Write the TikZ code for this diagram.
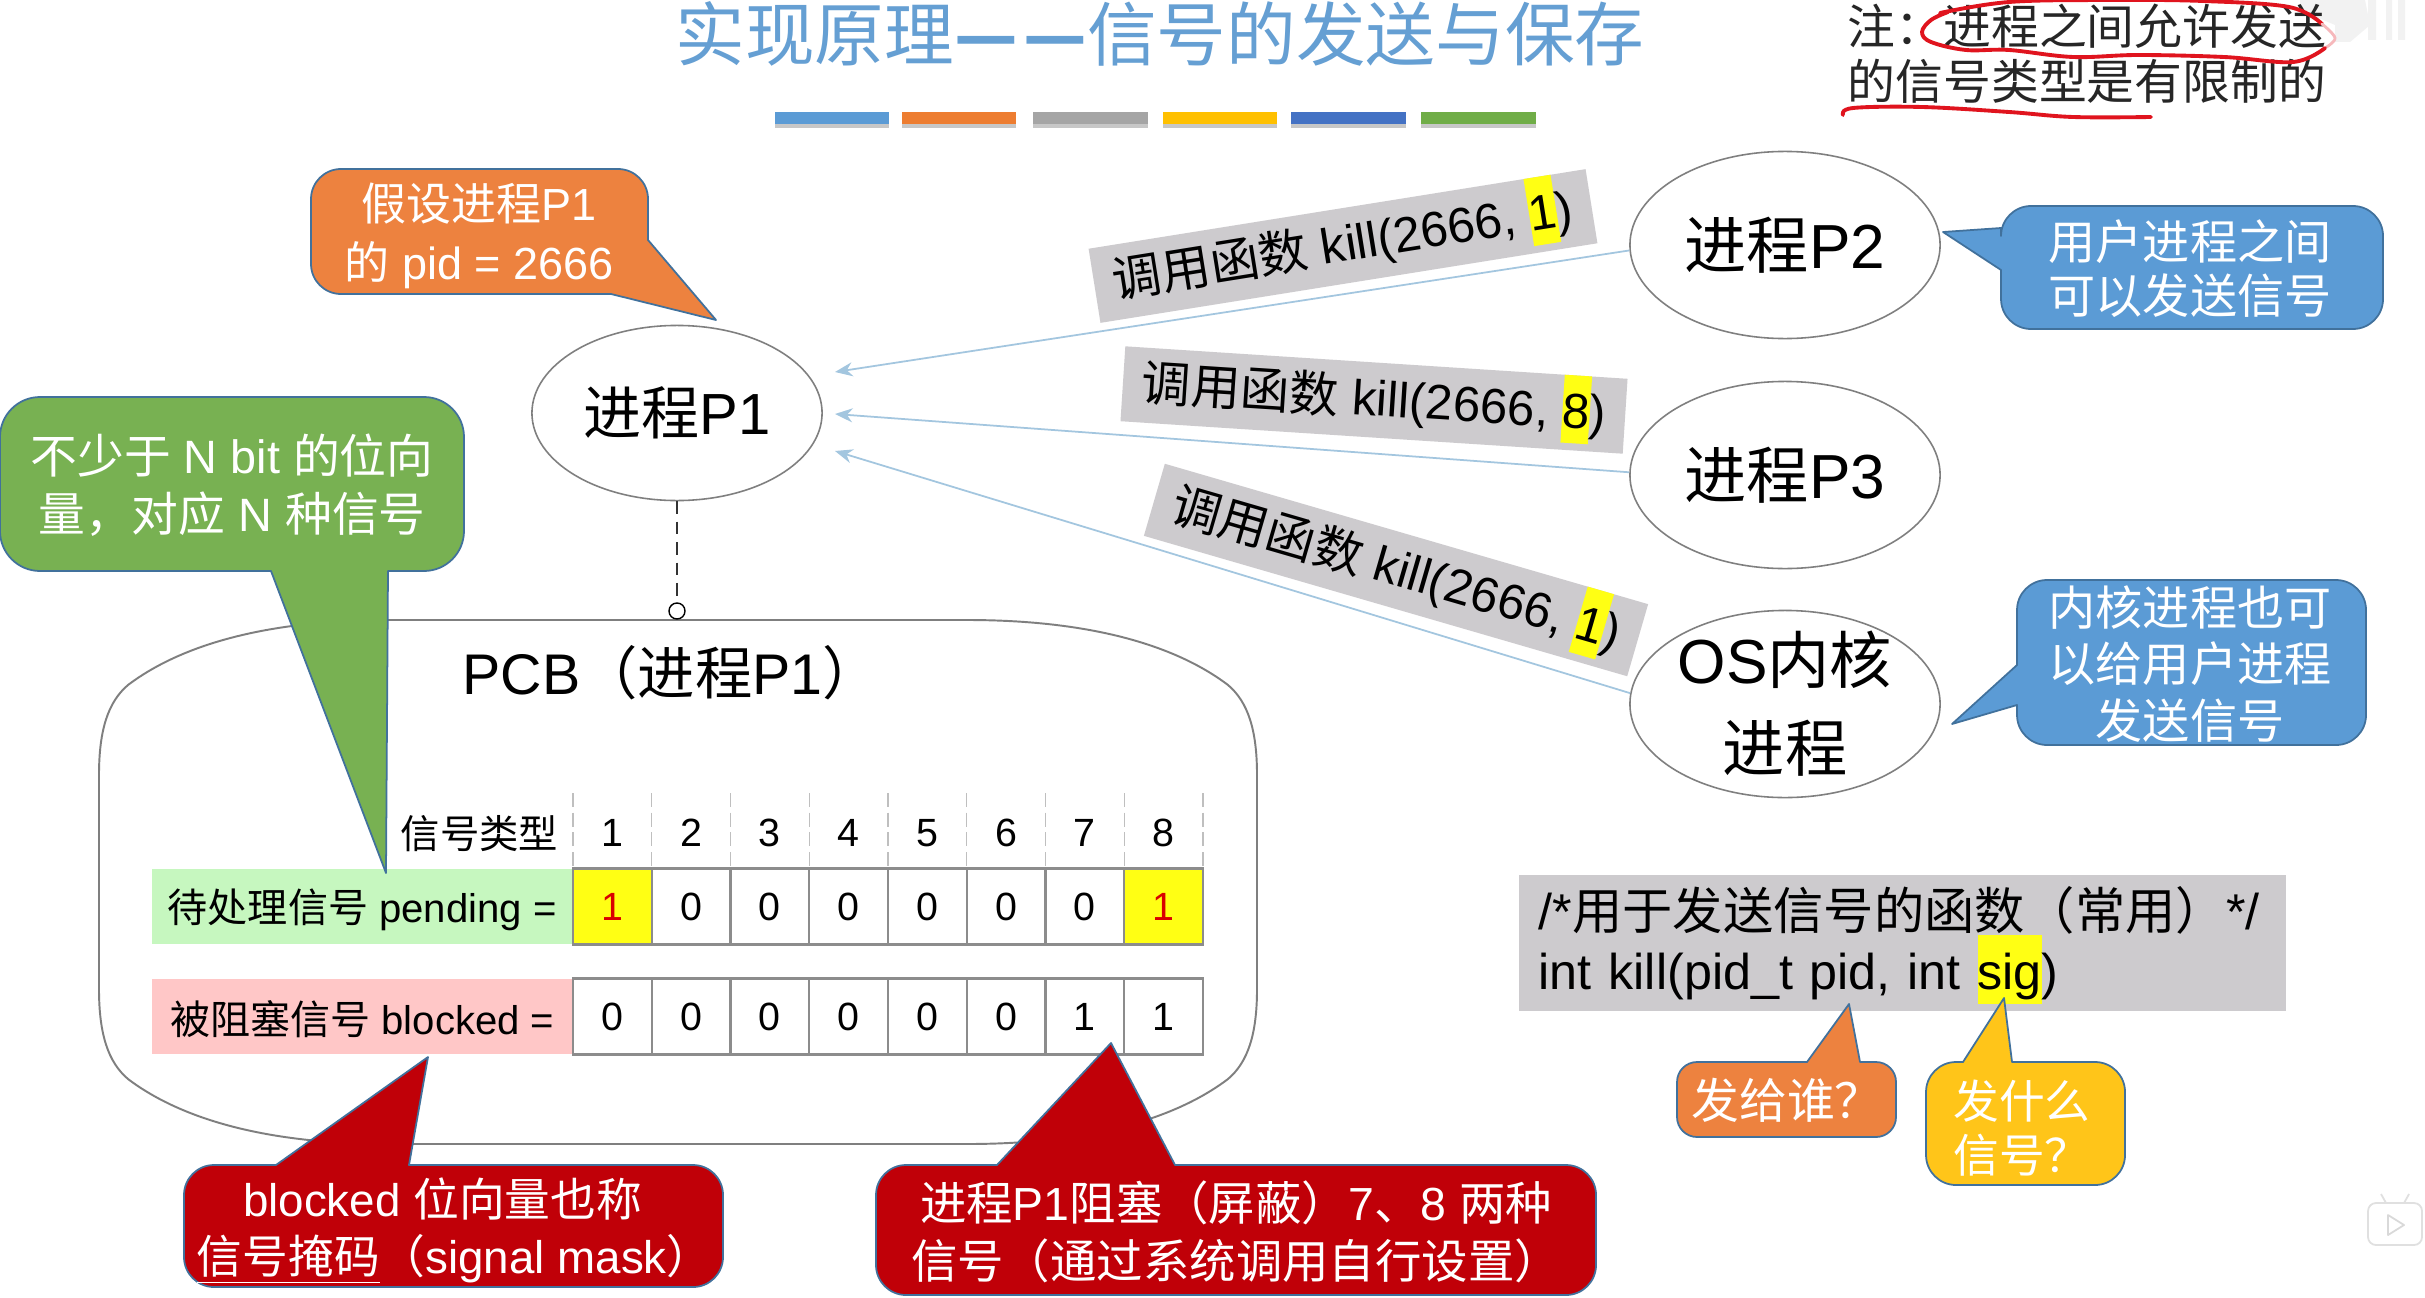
\documentclass[tikz,border=0pt]{standalone}
\usepackage{fontspec}
\usetikzlibrary{arrows.meta,shapes.geometric}
\setmainfont{Liberation Sans}
\newfontfamily\zhf{Noto Sans CJK SC}
\newcommand\zh[1]{{\zhf #1}}
\newcommand\fsz[2]{\fontsize{#1pt}{#2pt}\selectfont}
\newcommand\hlt[1]{\setlength\fboxsep{0pt}\smash{\colorbox{hly}{\rule[-.3em]{0pt}{1.38em}#1}}}
\definecolor{hly}{HTML}{FFFF14}
\definecolor{titleblue}{HTML}{659FD3}
\definecolor{cborange}{HTML}{ED823F}
\definecolor{cbblue}{HTML}{5B9BD5}
\definecolor{cbgreen}{HTML}{78B152}
\definecolor{cbred}{HTML}{C00008}
\definecolor{cbgold}{HTML}{FFC519}
\definecolor{edge}{HTML}{41719C}
\definecolor{graybox}{HTML}{CDCBCE}
\definecolor{pinkrow}{HTML}{FFC7C7}
\definecolor{greenrow}{HTML}{C6F7BF}
\definecolor{sigcol}{HTML}{A3C6DF}
\definecolor{rim}{HTML}{7F7F7F}
\definecolor{scribble}{HTML}{E0141E}
\definecolor{stA}{HTML}{5B9BD5}
\definecolor{stB}{HTML}{ED7D31}
\definecolor{stC}{HTML}{A5A5A5}
\definecolor{stD}{HTML}{FFC000}
\definecolor{stE}{HTML}{4472C4}
\definecolor{stF}{HTML}{70AD47}
\tikzset{
 x=0.01cm,y=-0.01cm,
 proc/.style={ellipse,draw=rim,line width=.45pt,fill=white,minimum width=#1,inner sep=0pt,font=\fsz{17.7}{25},align=center},
 proc/.default=3.1cm,
 procname/.style={inner sep=0pt,font=\fsz{17.7}{25},align=center},
 cbshape/.style={draw=edge,line width=.5pt,line join=round},
 cbtext/.style={text=white,inner sep=0pt,align=center,font=\fsz{13}{16.3}},
 siglab/.style={fill=graybox,inner sep=0pt,minimum height=.75cm,font=\fsz{14}{16}},
 sigline/.style={draw=sigcol,line width=.5pt,-{Stealth[length=5pt,width=4pt]}},
 cell/.style={draw=rim!90,line width=.6pt,fill=white,minimum width=.788cm,minimum height=.76cm,inner sep=0pt,font=\fsz{11.2}{13}},
 rowlab/.style={inner sep=0pt,minimum height=.755cm,minimum width=4.2cm,font=\fsz{11.4}{13}},
 redpen/.style={draw=scribble,line width=1.1pt,line cap=round,line join=round}
}
\begin{document}
\begin{tikzpicture}
\fill[white] (0,0) rectangle (2425,1297);
\useasboundingbox (0,0) rectangle (2425,1297);

% title and stripes
\node[text=titleblue,inner sep=0pt,font=\fsz{19.8}{24}] (title) at (1160,34) {\zh{实现原理{\bfseries —\kern.08em—}信号的发送与保存}};
\foreach \a/\b in {775/889,902/1016,1033/1148,1163/1277,1291/1406,1421/1536}
  \fill[black!22] (\a,118) rectangle (\b,128);
\fill[stA] (775,112) rectangle (889,124);
\fill[stB] (902,112) rectangle (1016,124);
\fill[stC] (1033,112) rectangle (1148,124);
\fill[stD] (1163,112) rectangle (1277,124);
\fill[stE] (1291,112) rectangle (1406,124);
\fill[stF] (1421,112) rectangle (1536,124);

% note
\fill[black!5] (2300,0) -- (2365,0) -- (2370,25) -- (2350,42) -- (2335,42) -- (2335,25) -- (2300,10) -- cycle;
\fill[black!5] (2368,0) rectangle (2376,40) (2386,0) rectangle (2392,40) (2398,0) rectangle (2405,40);
\node[anchor=west,inner sep=0pt,align=left,text=black!85,font=\fsz{13.6}{15.7}] (note) at (1847,54) {\zh{注：进程之间允许发送}\\\zh{的信号类型是有限制的}};
\draw[redpen] plot[smooth,tension=.6] coordinates {(1940,13)(2009,2)(2110,0)(2203,1)(2289,7)(2322,24)};
\draw[redpen,draw=scribble!30,line width=.8pt] plot[smooth,tension=.6] coordinates {(2322,24)(2335,38)(2325,48)};
\draw[redpen] plot[smooth,tension=.6] coordinates {(2325,48)(2293,62)(2224,57)(2138,55)(2073,57)(2009,50)(1966,50)(1931,42)(1922,32)(1931,20)(1948,12)};
\draw[redpen] plot[smooth,tension=.6] coordinates {(1843,115)(1853,108)(1922,107)(2009,112)(2073,117)(2151,117)};

% PCB outline
\draw[rim,line width=.55pt] (389,620) -- (967,620) .. controls (1090,620) and (1175,645) .. (1228,685) .. controls (1248,702) and (1257,730) .. (1257,775) -- (1257,989) .. controls (1257,1034) and (1248,1062) .. (1228,1079) .. controls (1175,1119) and (1090,1144) .. (967,1144) -- (389,1144) .. controls (266,1144) and (181,1119) .. (128,1079) .. controls (108,1062) and (99,1034) .. (99,989) -- (99,775) .. controls (99,730) and (108,702) .. (128,685) .. controls (181,645) and (266,620) .. (389,620) -- cycle;
\node[inner sep=0pt,anchor=west,font=\fsz{16.3}{20}] (pcbtitle) at (462,673) {PCB\zh{（进程}P1\zh{）}};

% table
\node[rowlab,fill=greenrow,anchor=east] (pendlab) at (573,906.5) {\raisebox{-.9pt}[\height][\depth]{\zh{待处理信号} pending =}};
\node[rowlab,fill=pinkrow,anchor=east] (blocklab) at (573,1016.5) {\raisebox{-.9pt}[\height][\depth]{\zh{被阻塞信号} blocked =}};
\node[anchor=east,inner sep=0pt,font=\fsz{11.2}{13}] (typelab) at (559,834) {\zh{信号类型}};
\foreach \i in {0,...,8}
  \draw[black!25,line width=.4pt,dash pattern=on 4pt off 1.6pt] ({573+78.75*\i},793) -- ({573+78.75*\i},869);
\foreach \i/\p/\b in {1/1/0,2/0/0,3/0/0,4/0/0,5/0/0,6/0/0,7/0/1,8/1/1}{
  \node[inner sep=0pt,font=\fsz{11.2}{13}] (h\i) at ({573+78.75*(\i-.5)},833) {\i};
  \node[cell] (p\i) at ({573+78.75*(\i-.5)},906.5) {\p};
  \node[cell] (b\i) at ({573+78.75*(\i-.5)},1016.5) {\b};
}
\node[cell,fill=hly,text=red!85!black] (py) at (p1) {1};
\node[cell,fill=hly,text=red!85!black] (pz) at (p8) {1};

% processes
\node[proc=2.9cm,minimum height=1.75cm,font=\fsz{16.5}{25}] (pa) at (677,413) {\zh{进程}P1};
\node[proc,minimum height=1.87cm] (pb) at (1785,245) {\zh{进程}P2};
\node[proc,minimum height=1.87cm] (pc) at (1785,475) {\zh{进程}P3};
\node[proc,minimum height=1.87cm] (pd) at (1785,704) {};
\node[procname] (pdt) at (pd.center) {OS\zh{内核}\\\zh{进程}};

% rotated labels
\node[siglab,rotate=9.1,minimum width=5.03cm] (la) at (1343,246) {\zh{调用函数} kill(2666, \hlt{1})};
\node[siglab,rotate=-3.7,minimum width=5.03cm] (lb) at (1374,400) {\zh{调用函数} kill(2666, \hlt{8})};
\node[siglab,rotate=-16.2,minimum width=5.03cm] (lc) at (1396,570) {\zh{调用函数} kill(2666, \hlt{1})};

% connectors
\coordinate (ta) at (835,372);
\coordinate (tb) at (835,414);
\coordinate (tc) at (835,451);
\draw[sigline] (pb.182) -- (ta);
\draw[sigline] (pc.179) -- (tb);
\draw[sigline] (pd.176) -- (tc);
\node[circle,draw=black,fill=white,line width=.4pt,minimum size=.16cm,inner sep=0pt] (dot) at (677,611) {};
\draw[black!80,line width=.4pt,dash pattern=on 3.6pt off 2.2pt] (pa.south) -- (dot.north);

% callouts
\draw[cbshape,fill=cborange] (611,294) [rounded corners=.3cm] -- (311,294) -- (311,169) -- (648,169) [sharp corners] -- (648,240) -- (716,320) -- cycle;
\node[cbtext,font=\fsz{12.8}{16.8}] (ca) at (479,236) {\zh{假设进程}P1\\\zh{的} pid = 2666};

\draw[cbshape,fill=cbblue] (2001,270) [rounded corners=.3cm] -- (2001,329) -- (2383,329) -- (2383,206) -- (2001,206) [sharp corners] -- (2001,228) -- (1943,232) -- cycle;
\node[cbtext,font=\fsz{13.4}{15.4}] (cb) at (2190,269) {\zh{用户进程之间}\\\zh{可以发送信号}};

\draw[cbshape,fill=cbblue] (2017,705) [rounded corners=.3cm] -- (2017,745) -- (2366,745) -- (2366,580) -- (2017,580) [sharp corners] -- (2017,665) -- (1952,724) -- cycle;
\node[cbtext,font=\fsz{13.4}{16}] (cc) at (2190,664) {\zh{内核进程也可}\\\zh{以给用户进程}\\\zh{发送信号}};

\draw[cbshape,fill=cbgreen] (388,571) [rounded corners=.4cm] -- (464,571) -- (464,397) -- (0,397) -- (0,571) [sharp corners] -- (271,571) -- (386,873) -- cycle;
\node[cbtext,font=\fsz{13.3}{16.5}] (cd) at (232,485) {\zh{不少于} N bit \zh{的位向}\\\zh{量，对应} N \zh{种信号}};

\draw[cbshape,fill=cbred] (409,1165) [rounded corners=.3cm] -- (723,1165) -- (723,1287) -- (184,1287) -- (184,1165) [sharp corners] -- (276,1165) -- (428,1057) -- cycle;
\node[cbtext] (ce) at (442.5,1231) {blocked \zh{位向量也称}\\\hspace*{7pt}\underline{\zh{信号掩码}}\zh{（}signal mask\zh{）}};

\draw[cbshape,fill=cbred] (1175,1165) [rounded corners=.3cm] -- (1596,1165) -- (1596,1295) -- (876,1295) -- (876,1165) [sharp corners] -- (997,1165) -- (1111,1043) -- cycle;
\node[cbtext,font=\fsz{13.2}{16.4}] (cf) at (1236,1232) {\zh{进程}P1\zh{阻塞（屏蔽）}7\zh{、}8 \zh{两种}\\\zh{信号（通过系统调用自行设置）}};

% code box
\node[fill=graybox,minimum width=7.67cm,minimum height=1.36cm,inner xsep=.2cm,inner ysep=0pt,text width=7.27cm,align=left,font=\fsz{14.3}{17}] (code) at (1902.5,943) {/*\zh{用于发送信号的函数（常用）}*/\\int kill(pid\_t pid, int \hlt{sig})};

\draw[cbshape,fill=cborange] (1860,1062) [rounded corners=.2cm] -- (1896,1062) -- (1896,1137) -- (1677,1137) -- (1677,1062) [sharp corners] -- (1807,1062) -- (1849,1004) -- cycle;
\node[cbtext,font=\fsz{13.6}{16}] (cg) at (1787,1100) {\zh{发给谁？}};

\draw[cbshape,fill=cbgold] (2012,1062) [rounded corners=.3cm] -- (2125,1062) -- (2125,1185) -- (1926,1185) -- (1926,1062) [sharp corners] -- (1963,1062) -- (2004,998) -- cycle;
\node[cbtext,font=\fsz{13}{15.4}] (ch) at (2022,1128) {\zh{发什么}\\\zh{信号？}};

% player logo
\draw[black!12,line width=.5pt,fill=white,rounded corners=.08cm] (2368,1203) -- (2422,1203) -- (2422,1245) -- (2368,1245) -- cycle;
\draw[black!12,line width=.5pt] (2386,1203) -- (2381,1194) (2404,1203) -- (2409,1194);
\draw[black!15,line width=.5pt,line join=round] (2388,1215) -- (2388,1235) -- (2404,1225) -- cycle;
\end{tikzpicture}
\end{document}
